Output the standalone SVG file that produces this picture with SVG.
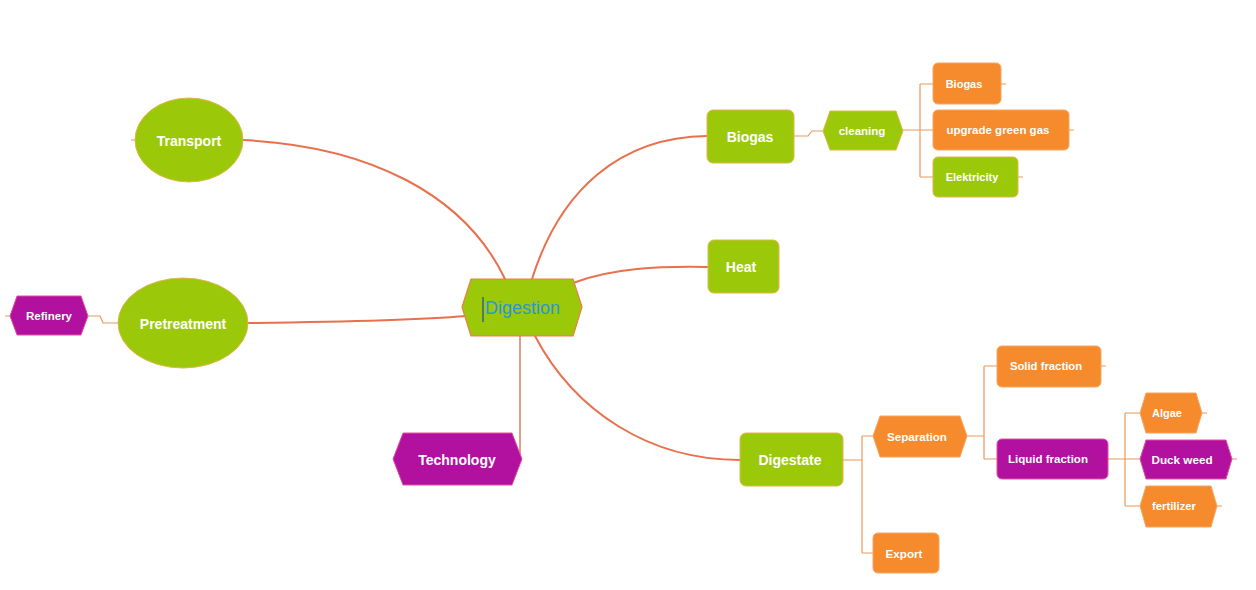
<svg xmlns="http://www.w3.org/2000/svg" width="1256" height="590" viewBox="0 0 1256 590">
  <style>
    .green { fill: #9bc90a; stroke: #e2b44a; stroke-width: 1; }
    .orange { fill: #f58b2c; stroke: #f7a560; stroke-width: 1; }
    .magenta { fill: #b2109f; stroke: #e0509a; stroke-width: 1; }
    .lbl { font-family: "Liberation Sans", Arial, sans-serif; font-weight: bold; fill: #ffffff; text-anchor: middle; dominant-baseline: central; }
    .main { fill: none; stroke: #e8704c; stroke-width: 2; stroke-linecap: round; }
    .sub { fill: none; stroke: #e89a5c; stroke-width: 1.2; }
  </style>

  <rect width="1256" height="590" fill="#ffffff"/>

  <!-- connectors -->
  <g id="connectors">
    <path class="main" d="M243,140 C370,146 465,195 505,279"/>
    <path class="main" d="M532,279 C560,190 620,137 707,136"/>
    <path class="main" d="M573,283 C612,268 660,266 708,267"/>
    <path class="main" d="M248,323 C330,322 420,320 466,316"/>
    <path class="main" d="M520,336 L520,459" style="stroke:#dca08c"/>
    <path class="main" d="M535,336 C575,412 650,460 740,460"/>

    <!-- Biogas branch -->
    <path class="sub" d="M794,136 L808,136 L812,131 L823,131"/>
    <path class="sub" d="M903,130 L920,130 M920,84 L920,177 M920,84 L933,84 M920,130 L933,130 M920,177 L933,177"/>
    <path class="sub" d="M1001,84 L1006,84 M1069,130 L1074,130 M1018,177 L1023,177"/>

    <!-- Pretreatment branch -->
    <path class="sub" d="M88,316 L100,316 L103,323 L118,323"/>
    <path class="sub" d="M5,316 L10,316 M131,140 L135,140"/>

    <!-- Digestate branch -->
    <path class="sub" d="M843,460 L862,460 M862,436 L862,553 M862,436 L873,436 M862,553 L873,553"/>
    <path class="sub" d="M967,436 L984,436 M984,366 L984,459 M984,366 L997,366 M984,459 L997,459"/>
    <path class="sub" d="M1108,459 L1125,459 M1125,413 L1125,506 M1125,413 L1140,413 M1125,459 L1140,459 M1125,506 L1140,506"/>
    <path class="sub" d="M1101,366 L1106,366 M1202,413 L1207,413 M1232,459 L1237,459 M1217,506 L1222,506"/>
  </g>

  <!-- central topic -->
  <g id="digestion">
    <path d="M462,307 L471,279 L573,279 L582,307 L573,336 L471,336 Z" fill="#9bc90a" stroke="#e88040" stroke-width="1.2" stroke-linejoin="round"/>
    <line x1="483" y1="297" x2="483" y2="322" stroke="#3a5f86" stroke-width="1.5"/>
    <text x="485" y="314" font-family="Liberation Sans, Arial, sans-serif" font-size="18" fill="#2b95d6">Digestion</text>
  </g>

  <g id="transport">
    <ellipse class="green" cx="189" cy="140" rx="54" ry="42"/>
    <text class="lbl" x="189" y="141" font-size="14">Transport</text>
  </g>

  <g id="pretreatment">
    <ellipse class="green" cx="183" cy="323" rx="65" ry="45"/>
    <text class="lbl" x="183" y="324" font-size="14">Pretreatment</text>
  </g>

  <g id="refinery">
    <path class="magenta" d="M10,316 L17,296 L81,296 L88,316 L81,335 L17,335 Z" stroke-linejoin="round"/>
    <text class="lbl" x="49" y="316" font-size="11.5">Refinery</text>
  </g>

  <g id="technology">
    <path class="magenta" d="M393,459 L403,433 L512,433 L522,459 L512,485 L403,485 Z" stroke-linejoin="round"/>
    <text class="lbl" x="457" y="460" font-size="14">Technology</text>
  </g>

  <g id="biogas">
    <rect class="green" x="707" y="110" width="87" height="53" rx="6"/>
    <text class="lbl" x="750" y="137" font-size="14">Biogas</text>
  </g>

  <g id="cleaning">
    <path class="green" d="M823,131 L830,111 L896,111 L903,131 L896,150 L830,150 Z" stroke-linejoin="round"/>
    <text class="lbl" x="862" y="131" font-size="11.5">cleaning</text>
  </g>

  <g id="biogas-out">
    <rect class="orange" x="933" y="63" width="68" height="41" rx="5"/>
    <text class="lbl" x="964" y="84" font-size="11">Biogas</text>
  </g>

  <g id="upgrade-green-gas">
    <rect class="orange" x="933" y="110" width="136" height="40" rx="5"/>
    <text class="lbl" x="998" y="130" font-size="11.5">upgrade green gas</text>
  </g>

  <g id="elektricity">
    <rect class="green" x="933" y="157" width="85" height="40" rx="5"/>
    <text class="lbl" x="972" y="177" font-size="11">Elektricity</text>
  </g>

  <g id="heat">
    <rect class="green" x="708" y="240" width="71" height="53" rx="6"/>
    <text class="lbl" x="741" y="267" font-size="14">Heat</text>
  </g>

  <g id="digestate">
    <rect class="green" x="740" y="433" width="103" height="53" rx="6"/>
    <text class="lbl" x="790" y="460" font-size="14">Digestate</text>
  </g>

  <g id="separation">
    <path class="orange" d="M873,436 L880,416 L960,416 L967,436 L960,457 L880,457 Z" stroke-linejoin="round"/>
    <text class="lbl" x="917" y="436" font-size="11.6">Separation</text>
  </g>

  <g id="export">
    <rect class="orange" x="873" y="533" width="66" height="40" rx="5"/>
    <text class="lbl" x="904" y="553" font-size="11.7">Export</text>
  </g>

  <g id="solid-fraction">
    <rect class="orange" x="997" y="346" width="104" height="41" rx="5"/>
    <text class="lbl" x="1046" y="366" font-size="11.3">Solid fraction</text>
  </g>

  <g id="liquid-fraction">
    <rect class="magenta" x="997" y="439" width="111" height="40" rx="5"/>
    <text class="lbl" x="1048" y="459" font-size="11.5">Liquid fraction</text>
  </g>

  <g id="algae">
    <path class="orange" d="M1140,413 L1146,393 L1196,393 L1202,413 L1196,433 L1146,433 Z" stroke-linejoin="round"/>
    <text class="lbl" x="1167" y="413" font-size="11">Algae</text>
  </g>

  <g id="duck-weed">
    <path class="magenta" d="M1140,459 L1146,440 L1226,440 L1232,459 L1226,479 L1146,479 Z" stroke-linejoin="round"/>
    <text class="lbl" x="1182" y="459" font-size="11.7">Duck weed</text>
  </g>

  <g id="fertilizer">
    <path class="orange" d="M1140,506 L1146,486 L1211,486 L1217,506 L1211,527 L1146,527 Z" stroke-linejoin="round"/>
    <text class="lbl" x="1174" y="506" font-size="11.3">fertilizer</text>
  </g>
</svg>
